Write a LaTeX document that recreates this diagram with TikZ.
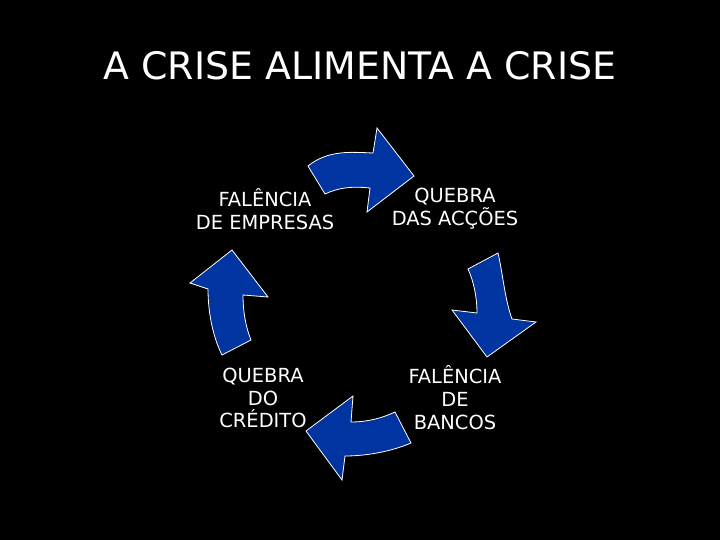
\documentclass[tikz,border=0pt]{standalone}
\usepackage{fontspec}
\setmainfont{DejaVu Sans}
\definecolor{arrowblue}{RGB}{0,52,160}
\tikzset{
  cyc/.style={fill=arrowblue, draw=white, line width=0.8bp, line join=miter},
  lbl/.style={text=white, align=center, font=\fontsize{19.5}{23}\selectfont, inner sep=0pt},
}
\begin{document}
\begin{tikzpicture}[x=1bp,y=-1bp]
\fill[black] (0,0) rectangle (720,540);
\useasboundingbox (0,0) rectangle (720,540);
\node[text=white, font=\fontsize{38}{44}\selectfont] (title) at (360,66) {A CRISE ALIMENTA A CRISE};
% top arrow
\draw[cyc] (308,166) .. controls (328,150) and (350,152) .. (373,153) -- (377,128) -- (414,176) -- (367,212) -- (370,188) .. controls (350,186) and (338,188) .. (325,194) -- cycle;
% right arrow
\draw[cyc] (498,253) .. controls (503,275) and (505,300) .. (512,319) -- (536,322) -- (487,357) -- (452,310) -- (477,313) .. controls (477,298) and (474,282) .. (468,269) -- cycle;
% bottom arrow
\draw[cyc] (411,443) .. controls (390,452) and (365,456) .. (345,456) -- (342,480) -- (306,431) -- (353,396) -- (351,422) .. controls (368,422) and (382,418) .. (395,412) -- cycle;
% left arrow
\draw[cyc] (222,355) .. controls (212,335) and (208,310) .. (208,289) -- (190,283) -- (232,250) -- (268,297) -- (243,295) .. controls (243,312) and (246,328) .. (251,340) -- cycle;
\node[lbl] (fe) at (265,209) {FALÊNCIA\\DE EMPRESAS};
\node[lbl] (qa) at (455,209) {QUEBRA\\DAS ACÇÕES};
\node[lbl] (qc) at (263,398) {QUEBRA\\DO\\CRÉDITO};
\node[lbl] (fb) at (455,398) {FALÊNCIA\\DE\\BANCOS};
\end{tikzpicture}
\end{document}
